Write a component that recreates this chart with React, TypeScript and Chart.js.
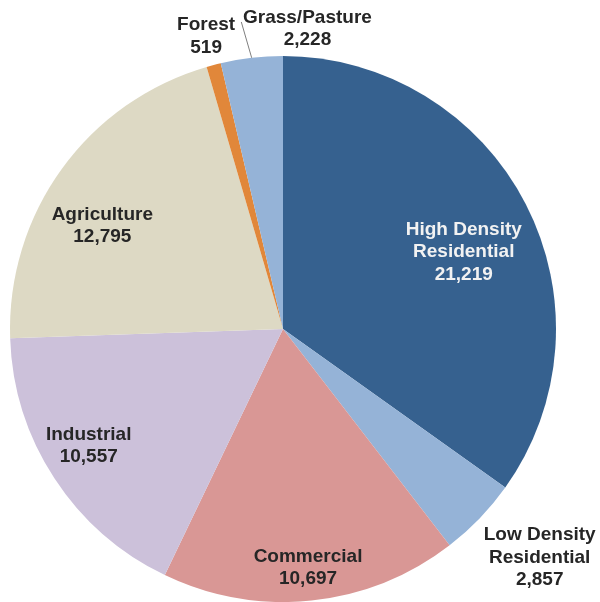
import React, { useEffect, useRef } from "react";
import { Chart, registerables } from "chart.js";

Chart.register(...registerables);

const categories = [
  "High Density Residential",
  "Low Density Residential",
  "Commercial",
  "Industrial",
  "Agriculture",
  "Forest",
  "Grass/Pasture",
];
const values = [21219, 2857, 10697, 10557, 12795, 519, 2228];
const labelLines = [
  ["High Density", "Residential"],
  ["Low Density", "Residential"],
  ["Commercial"],
  ["Industrial"],
  ["Agriculture"],
  ["Forest"],
  ["Grass/Pasture"],
];
const colors = ["#36618F", "#95B3D7", "#D99795", "#CCC1DA", "#DDD9C4", "#E1873A", "#95B3D7"];
// label placement: radial fraction of radius, plus pixel offset
const labelRadius = [0.72, 1.26, 0.88, 0.828, 0.763, 1.109, 1.104];
const labelDX = [6, 9, 0, -5, -12, 0, 59];
const labelDY = [13, -10, 0, -7, 19, 0, -1];
const labelColor = ["#F2F2F2", "#262626", "#262626", "#262626", "#262626", "#262626", "#262626"];
const leader = [false, false, false, false, false, false, true];

const labelPlugin = {
  id: "sliceLabels",
  afterDatasetsDraw(chart: any) {
    const ctx = chart.ctx;
    const meta = chart.getDatasetMeta(0);
    ctx.save();
    ctx.font = "bold 19px 'Liberation Sans', Arial, sans-serif";
    ctx.textAlign = "center";
    ctx.textBaseline = "middle";
    meta.data.forEach((arc: any, i: number) => {
      const p = arc.getProps(["x", "y", "startAngle", "endAngle", "outerRadius"], true);
      const mid = (p.startAngle + p.endAngle) / 2;
      const R = p.outerRadius;
      if (leader[i]) {
        ctx.strokeStyle = "#7F7F7F";
        ctx.lineWidth = 1;
        ctx.beginPath();
        ctx.moveTo(p.x + Math.cos(mid) * R, p.y + Math.sin(mid) * R);
        ctx.lineTo(p.x + Math.cos(mid - 0.02) * R * 1.135, p.y + Math.sin(mid - 0.02) * R * 1.135);
        ctx.stroke();
      }
      const cx = p.x + Math.cos(mid) * R * labelRadius[i] + labelDX[i];
      const cy = p.y + Math.sin(mid) * R * labelRadius[i] + labelDY[i];
      const lines = [...labelLines[i], values[i].toLocaleString("en-US")];
      const lh = 22.5;
      const top = cy - ((lines.length - 1) * lh) / 2;
      ctx.fillStyle = labelColor[i];
      lines.forEach((t, k) => ctx.fillText(t, cx, top + k * lh));
    });
    ctx.restore();
  },
};

export default function App() {
  const ref = useRef<HTMLCanvasElement>(null);
  useEffect(() => {
    if (!ref.current) return;
    const chart = new Chart(ref.current, {
      type: "pie",
      data: {
        labels: categories,
        datasets: [
          {
            data: values,
            backgroundColor: colors,
            borderWidth: 0,
          },
        ],
      },
      options: {
        responsive: false,
        animation: false,
        layout: { padding: { left: 10, right: 44, top: 56, bottom: 0 } },
        plugins: {
          legend: { display: false },
          tooltip: { enabled: false },
        },
      },
      plugins: [labelPlugin],
    });
    return () => chart.destroy();
  }, []);
  return (
    <div style={{ position: "absolute", left: 0, top: 0, width: 600, height: 602, background: "#fff" }}>
      <canvas ref={ref} width={600} height={602} />
    </div>
  );
}
